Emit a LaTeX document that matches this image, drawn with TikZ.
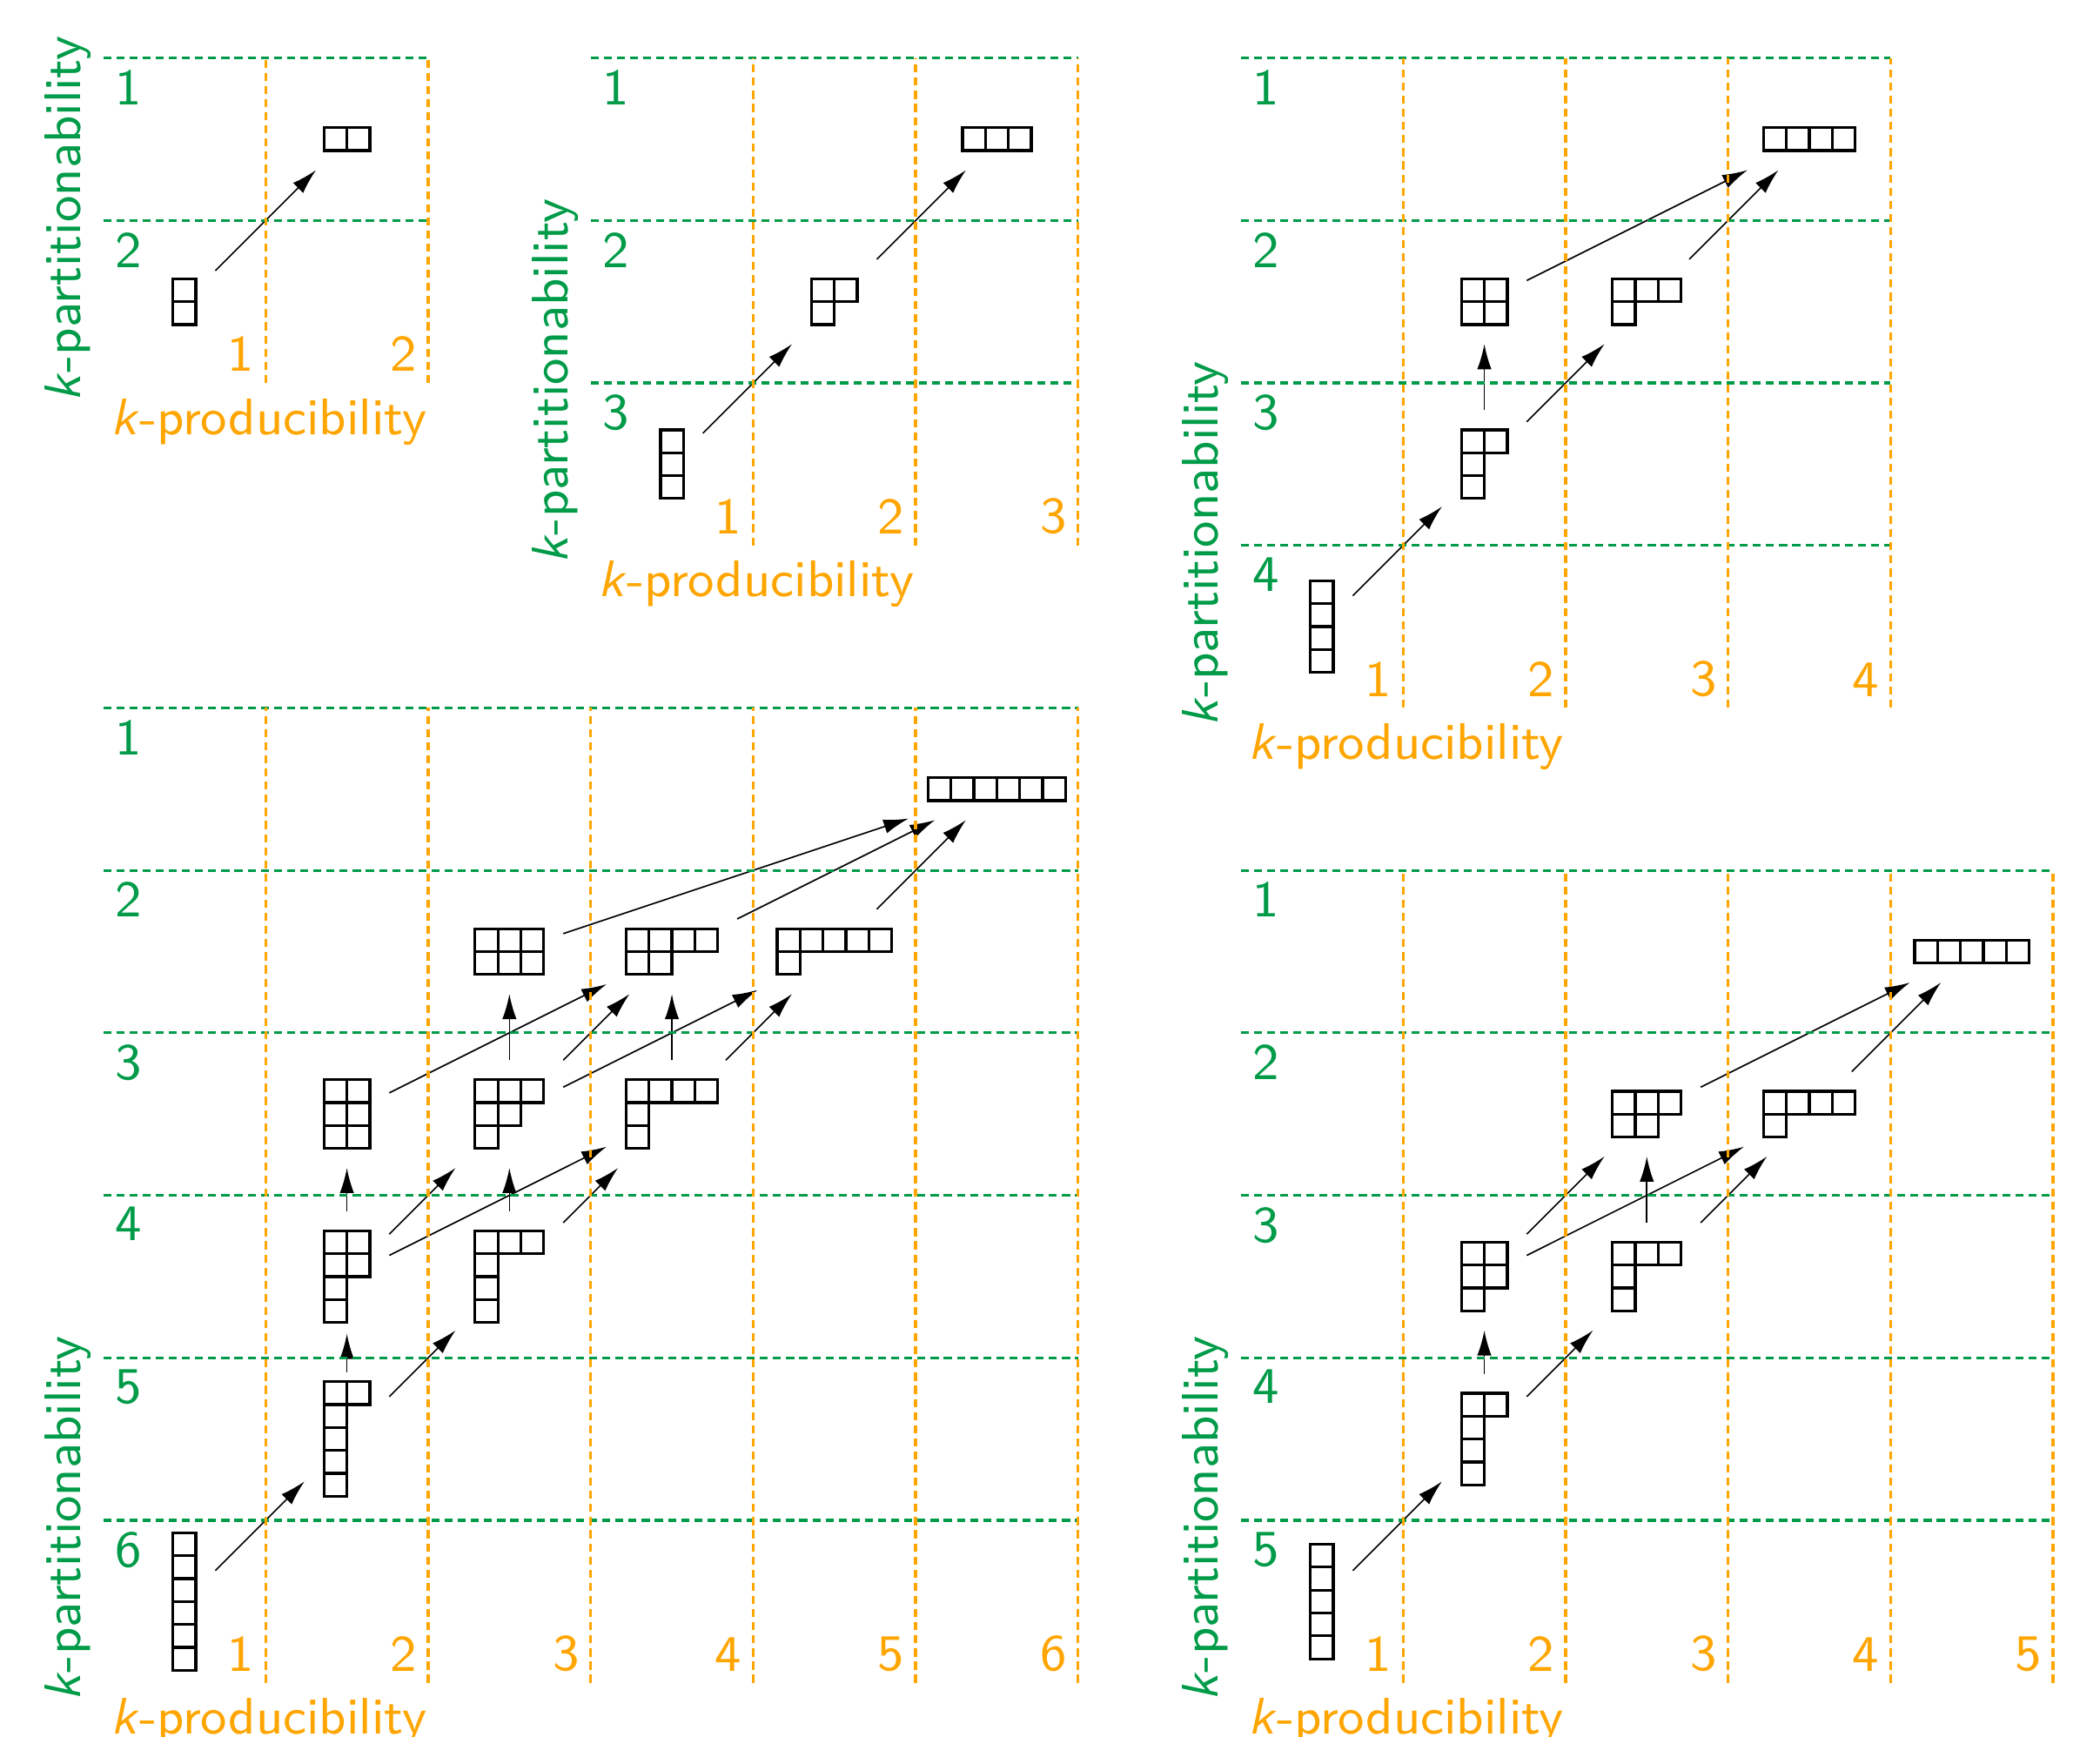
\documentclass[tikz,border=0pt]{standalone}
\usepackage{amsmath}
\usetikzlibrary{calc, positioning}
\usetikzlibrary{arrows.meta}

\definecolor{partgreen}{RGB}{0,155,72}
\definecolor{prodorange}{RGB}{255,165,0}

\begin{document}
\begin{tikzpicture}[x=1cm, y=1cm,
  hasse/.style={-{Latex[length=4.4pt, width=2.5pt]}, line width=0.25pt},
  ybox/.style={line width=0.5pt},
  ynode/.style={inner sep=0pt, outer sep=0pt},
  partline/.style={partgreen, line width=0.5pt, dash pattern=on 1.4pt off 0.9pt},
  prodline/.style={prodorange, line width=0.5pt, dash pattern=on 1.4pt off 0.9pt},
  lab/.style={font=\sffamily\fontsize{9}{11}\selectfont}]
\def\bx{0.141}
\def\pad{0.24}

\useasboundingbox (-0.635,-0.332) rectangle (12.289,10.357);

% young diagram: name, centre, width, height, row lengths
\def\ydiag#1#2#3#4#5{
  \node[ynode, minimum width={(#3*\bx+\pad)*1cm}, minimum height={(#4*\bx+\pad)*1cm}] (#1) at (#2) {};
  \foreach \cnt [count=\rw] in {#5}
    \foreach \cl in {1,...,\cnt}
      \draw[ybox, shift={(#2)}] ({(\cl-1-#3/2)*\bx},{(#4/2-\rw+1)*\bx}) rectangle ++(\bx,-\bx);
}

% grid: origin x, origin y, size
\def\kgrid#1#2#3{
  \foreach \j in {1,...,#3}
    \draw[partline] (#1,#2+\j) -- (#1+#3,#2+\j);
  \foreach \j in {1,...,#3}
    \draw[prodline] (#1+\j,#2) -- (#1+\j,#2+#3);
  \foreach \j in {1,...,#3} {
    \node[lab, text=partgreen, anchor=north west, inner sep=1.9pt] (part#3-\j) at (#1,#2+#3-\j+1) {\j};
    \node[lab, text=prodorange, anchor=south east, inner sep=1.8pt] (prod#3-\j) at (#1+\j,#2) {\j};
  }
  \node[lab, text=prodorange, anchor=north west, inner sep=0pt] (prodaxis#3) at (#1+0.04,#2-0.09) {\textit{k}-producibility};
  \node[lab, text=partgreen, rotate=90, anchor=south west, inner sep=0pt] (partaxis#3) at (#1-0.07,#2-0.12) {\textit{k}-partitionability};
}

% n = 2
\ydiag{n2p2}{1.5,9.5}{2}{1}{2}
\ydiag{n2p11}{0.5,8.5}{1}{2}{1,1}

% n = 3
\ydiag{n3p3}{5.5,9.5}{3}{1}{3}
\ydiag{n3p21}{4.5,8.5}{2}{2}{2,1}
\ydiag{n3p111}{3.5,7.5}{1}{3}{1,1,1}

% n = 4
\ydiag{n4p4}{10.5,9.5}{4}{1}{4}
\ydiag{n4p22}{8.5,8.5}{2}{2}{2,2}
\ydiag{n4p31}{9.5,8.5}{3}{2}{3,1}
\ydiag{n4p211}{8.5,7.5}{2}{3}{2,1,1}
\ydiag{n4p1111}{7.5,6.5}{1}{4}{1,1,1,1}

% n = 6
\ydiag{n6p6}{5.5,5.5}{6}{1}{6}
\ydiag{n6p33}{2.5,4.5}{3}{2}{3,3}
\ydiag{n6p42}{3.5,4.5}{4}{2}{4,2}
\ydiag{n6p51}{4.5,4.5}{5}{2}{5,1}
\ydiag{n6p222}{1.5,3.5}{2}{3}{2,2,2}
\ydiag{n6p321}{2.5,3.5}{3}{3}{3,2,1}
\ydiag{n6p411}{3.5,3.5}{4}{3}{4,1,1}
\ydiag{n6p2211}{1.5,2.5}{2}{4}{2,2,1,1}
\ydiag{n6p3111}{2.5,2.5}{3}{4}{3,1,1,1}
\ydiag{n6p21111}{1.5,1.5}{2}{5}{2,1,1,1,1}
\ydiag{n6p111111}{0.5,0.5}{1}{6}{1,1,1,1,1,1}

% n = 5
\ydiag{n5p5}{11.5,4.5}{5}{1}{5}
\ydiag{n5p32}{9.5,3.5}{3}{2}{3,2}
\ydiag{n5p41}{10.5,3.5}{4}{2}{4,1}
\ydiag{n5p221}{8.5,2.5}{2}{3}{2,2,1}
\ydiag{n5p311}{9.5,2.5}{3}{3}{3,1,1}
\ydiag{n5p2111}{8.5,1.5}{2}{4}{2,1,1,1}
\ydiag{n5p11111}{7.5,0.5}{1}{5}{1,1,1,1,1}

\foreach \a/\b in {n2p11/n2p2,
    n3p111/n3p21, n3p21/n3p3,
    n4p1111/n4p211, n4p211/n4p22, n4p211/n4p31, n4p22/n4p4, n4p31/n4p4,
    n6p111111/n6p21111, n6p21111/n6p3111,
    n6p2211/n6p222, n6p2211/n6p321, n6p2211/n6p411,
    n6p3111/n6p321, n6p3111/n6p411,
    n6p222/n6p42, n6p321/n6p33, n6p321/n6p42, n6p321/n6p51,
    n6p411/n6p42, n6p411/n6p51,
    n6p33/n6p6, n6p42/n6p6, n6p51/n6p6,
    n5p11111/n5p2111, n5p2111/n5p221, n5p2111/n5p311,
    n5p221/n5p32, n5p221/n5p41, n5p311/n5p32, n5p311/n5p41,
    n5p32/n5p5, n5p41/n5p5}
  \draw[hasse] (\a) -- (\b);
\draw[hasse, shorten <=-0.06cm, shorten >=-0.05cm] (n6p21111) -- (n6p2211);

\kgrid{0}{8}{2}
\kgrid{3}{7}{3}
\kgrid{7}{6}{4}
\kgrid{0}{0}{6}
\kgrid{7}{0}{5}
\end{tikzpicture}
\end{document}
